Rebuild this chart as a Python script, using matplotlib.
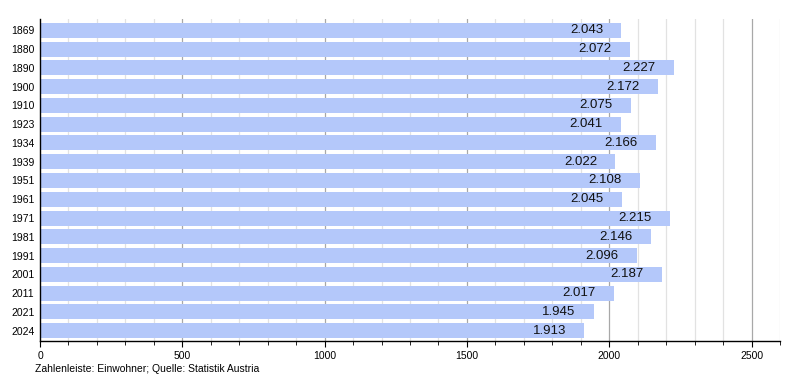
import numpy as np
import matplotlib.pyplot as plt
from matplotlib.ticker import MultipleLocator

plt.rcParams['font.family'] = ['Liberation Sans', 'DejaVu Sans']

# Population by census year
years = ['1869', '1880', '1890', '1900', '1910', '1923', '1934', '1939',
         '1951', '1961', '1971', '1981', '1991', '2001', '2011', '2021', '2024']
population = [2043, 2072, 2227, 2172, 2075, 2041, 2166, 2022,
              2108, 2045, 2215, 2146, 2096, 2187, 2017, 1945, 1913]
value_labels = ['2.043', '2.072', '2.227', '2.172', '2.075', '2.041', '2.166', '2.022',
                '2.108', '2.045', '2.215', '2.146', '2.096', '2.187', '2.017', '1.945', '1.913']

fig = plt.figure(figsize=(8, 3.8), dpi=100)
ax = fig.add_axes([0.05, 0.1026, 0.925, 0.8474])

pos = np.arange(len(years))
ax.barh(pos, population, height=0.8, color='#b4c8fa', zorder=2)

# grid behind bars: light every 100, darker every 500
for x in range(100, 2700, 100):
    if x % 500 == 0:
        ax.axvline(x, color='#a8a8a8', lw=0.9, zorder=1)
    else:
        ax.axvline(x, color='#e2e2e2', lw=0.9, zorder=1)

for p, v, lab in zip(pos, population, value_labels):
    ax.text(v - 65, p, lab, ha='right', va='center', fontsize=9.5, color='#111111', zorder=3)

ax.set_xlim(0, 2600)
ax.set_ylim(len(years) - 0.45, -0.6)
ax.set_yticks(pos)
ax.set_yticklabels(years, fontsize=7.5)
ax.tick_params(axis='y', length=0, pad=4)
ax.xaxis.set_major_locator(MultipleLocator(500))
ax.xaxis.set_minor_locator(MultipleLocator(100))
ax.tick_params(axis='x', which='major', length=4, labelsize=7.5, pad=3)
ax.tick_params(axis='x', which='minor', length=3)
for side in ['top', 'right']:
    ax.spines[side].set_visible(False)
ax.spines['left'].set_linewidth(1)
ax.spines['bottom'].set_linewidth(1)

fig.text(0.044, 0.02, 'Zahlenleiste: Einwohner; Quelle: Statistik Austria', fontsize=7.5)

fig.savefig('out.png', dpi=100)
